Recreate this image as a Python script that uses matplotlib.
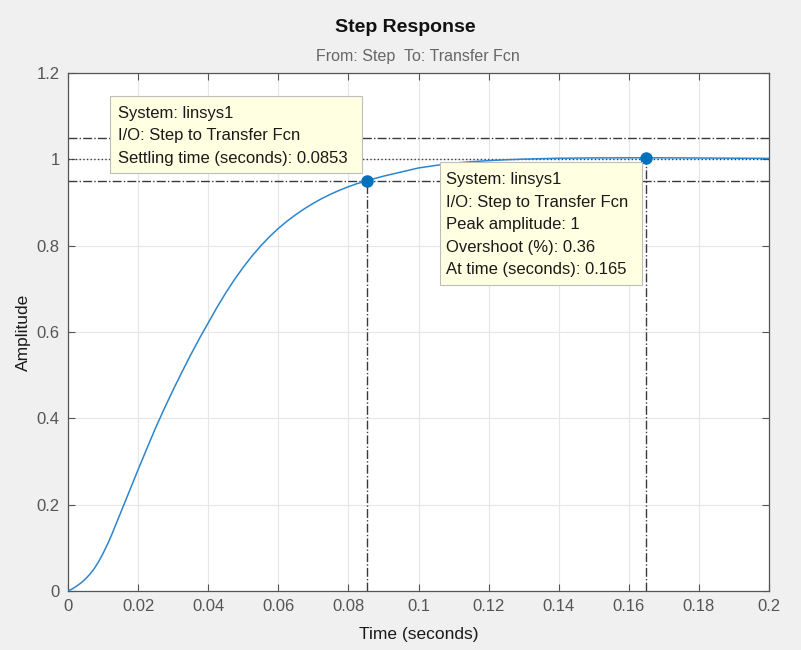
import matplotlib
matplotlib.use("Agg")
import matplotlib.pyplot as plt
from matplotlib.patches import Rectangle

# ---- data ----
t = [0, 0.00125, 0.0025, 0.00375, 0.005, 0.00625, 0.0075, 0.00875, 0.01,
     0.01125, 0.0125, 0.01375, 0.015, 0.01625, 0.0175, 0.02, 0.0225, 0.025,
     0.0275, 0.03, 0.0325, 0.035, 0.0375, 0.04, 0.0425, 0.045, 0.0475, 0.05,
     0.0525, 0.055, 0.0575, 0.06, 0.0625, 0.065, 0.0675, 0.07, 0.0725, 0.075,
     0.0775, 0.08, 0.0825, 0.0853, 0.0875, 0.09, 0.095, 0.1, 0.105, 0.11,
     0.115, 0.12, 0.125, 0.13, 0.14, 0.15, 0.165, 0.18, 0.19, 0.2]
amp = [0, 0.005, 0.0115, 0.019, 0.028, 0.039, 0.052, 0.068, 0.087,
       0.108, 0.131, 0.156, 0.181, 0.206, 0.231, 0.281, 0.330, 0.378,
       0.423, 0.466, 0.507, 0.547, 0.585, 0.621, 0.657, 0.6905, 0.7215, 0.750,
       0.776, 0.7995, 0.8208, 0.8398, 0.8568, 0.872, 0.8858, 0.8983, 0.9095, 0.9195,
       0.9285, 0.9365, 0.9438, 0.950, 0.9555, 0.961, 0.9705, 0.980, 0.986, 0.991,
       0.9945, 0.997, 0.999, 1.0005, 1.0025, 1.0033, 1.0036, 1.0031, 1.0026, 1.0022]

settle_t, settle_y = 0.0853, 0.95
peak_t, peak_y = 0.165, 1.0036
band_hi, band_lo, final_val = 1.05, 0.95, 1.0

xticks = [0, 0.02, 0.04, 0.06, 0.08, 0.1, 0.12, 0.14, 0.16, 0.18, 0.2]
xticklabels = ["0", "0.02", "0.04", "0.06", "0.08", "0.1", "0.12", "0.14", "0.16", "0.18", "0.2"]
yticks = [0, 0.2, 0.4, 0.6, 0.8, 1.0, 1.2]
yticklabels = ["0", "0.2", "0.4", "0.6", "0.8", "1", "1.2"]

tip1 = ["System: linsys1", "I/O: Step to Transfer Fcn", "Settling time (seconds): 0.0853"]
tip2 = ["System: linsys1", "I/O: Step to Transfer Fcn", "Peak amplitude: 1",
        "Overshoot (%): 0.36", "At time (seconds): 0.165"]

# ---- figure ----
plt.rcParams['font.family'] = ['Liberation Sans', 'DejaVu Sans']
W, H = 801, 650
fig = plt.figure(figsize=(W / 100, H / 100), dpi=100, facecolor='#f0f0f0')
L, R, T, B = 68, 769, 73, 591
ax = fig.add_axes([L / W, 1 - B / H, (R - L) / W, (B - T) / H])
ax.set_facecolor('white')

ax.set_xlim(0, 0.2)
ax.set_ylim(0, 1.2)
ax.set_xticks(xticks)
ax.set_xticklabels(xticklabels)
ax.set_yticks(yticks)
ax.set_yticklabels(yticklabels)
ax.grid(True, color='#e6e6e6', lw=0.8)
ax.set_axisbelow(True)
ax.tick_params(direction='in', top=True, right=True, length=5, width=0.8,
               colors='#555555', labelsize=12, pad=6)
for s in ax.spines.values():
    s.set_color('#555555')
    s.set_linewidth(0.9)

lc = '#3a3a3a'
ax.axhline(band_hi, color=lc, lw=1.0, ls='-.', zorder=2)
ax.axhline(band_lo, color=lc, lw=1.0, ls='-.', zorder=2)
ax.axhline(final_val, color=lc, lw=1.0, ls=':', zorder=2)
ax.plot([settle_t, settle_t], [0, settle_y], color=lc, lw=1.0, ls='-.', zorder=2)
ax.plot([peak_t, peak_t], [0, peak_y], color=lc, lw=1.0, ls='-.', zorder=2)

ax.plot(t, amp, color='#2b86cf', lw=1.1, zorder=3)
ax.plot([settle_t, peak_t], [settle_y, peak_y], 'o', color='#0072BD',
        ms=8, zorder=4, ls='none')

ax.set_xlabel("Time (seconds)", fontsize=12.5, color='#1a1a1a', labelpad=9)
ax.set_ylabel("Amplitude", fontsize=12.5, color='#1a1a1a', labelpad=4)

fig.text(405 / W, 1 - 27 / H, "Step Response", ha='center', va='center',
         fontsize=14, fontweight='bold', color='#111111')
fig.text(418 / W, 1 - 57 / H, "From: Step  To: Transfer Fcn", ha='center',
         va='center', fontsize=11.5, color='#666666')

def px2ax(px, py):
    return (px - L) / (R - L), (B - py) / (B - T)

def datatip(x0, y0, x1, y1, tx, ty0, dy, lines):
    ax0, ay1 = px2ax(x0, y1)
    ax1, ay0 = px2ax(x1, y0)
    rect = Rectangle((ax0, ay1), ax1 - ax0, ay0 - ay1, transform=ax.transAxes,
                     facecolor='#ffffe1', edgecolor='#bdbdbd', lw=0.8,
                     zorder=6, clip_on=False)
    ax.add_patch(rect)
    for i, s in enumerate(lines):
        xx, yy = px2ax(tx, ty0 + i * dy)
        ax.text(xx, yy, s, transform=ax.transAxes, ha='left', va='center',
                fontsize=12, color='#1a1a1a', zorder=7)

datatip(110, 96, 362, 173, 118, 113.5, 22.5, tip1)
datatip(440, 162, 642, 285, 446, 180, 22.5, tip2)

fig.savefig("out.png", dpi=100, facecolor=fig.get_facecolor())
